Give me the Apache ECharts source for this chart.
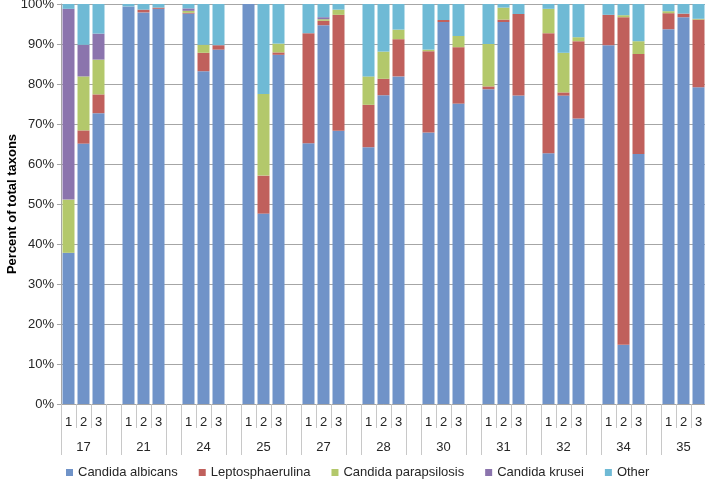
<!DOCTYPE html>
<html>
<head>
<meta charset="utf-8">
<script src="https://cdn.jsdelivr.net/npm/echarts@6/dist/echarts.min.js"></script>
<style>html,body{margin:0;padding:0;background:#fff}#c{width:705px;height:480px}</style>
</head>
<body>
<div id="c"></div>
<script>
// Groups (patients) and replicate labels
const groups = ['17','21','24','25','27','28','30','31','32','34','35'];
const reps = ['1','2','3'];
const seriesNames = ['Candida albicans','Leptosphaerulina','Candida parapsilosis','Candida krusei','Other'];
const yTicks = [0,10,20,30,40,50,60,70,80,90,100];

// Values (percent), 3 per group in group order
const albicans = [37.8,65.1,72.7, 99.4,97.9,98.8, 97.6,83.2,88.6, 100,47.6,87.3, 65.2,94.7,68.3, 64.2,77.2,81.9, 67.9,95.5,75.1, 78.7,95.5,77.1, 62.7,77.1,71.4, 89.7,14.8,62.5, 93.7,96.7,79.2];
const lepto    = [0,3.3,4.7, 0,0.7,0.3, 0.2,4.6,1.1, 0,9.5,0.6, 27.5,1.1,29.0, 10.6,4.1,9.3, 20.3,0.5,14.1, 0.7,0.6,20.4, 30.0,0.8,19.3, 7.6,81.9,25.0, 4.0,0.9,16.9];
const parap    = [13.3,13.5,8.7, 0,0,0, 0.5,2.0,0, 0,20.4,2.2, 0,0.4,1.3, 7.1,6.8,2.4, 0.4,0,2.8, 10.6,3.0,0, 6.1,9.9,1.0, 0,0.5,3.2, 0.5,0,0.2];
const krusei   = [47.7,7.9,6.5, 0,0,0, 0.6,0,0, 0,0,0, 0,0.5,0, 0,0,0, 0,0,0, 0,0,0, 0,0,0, 0,0,0, 0,0,0];
const other    = [1.2,10.2,7.4, 0.6,1.4,0.9, 1.1,10.2,10.3, 0,22.5,9.9, 7.3,3.3,1.4, 18.1,11.9,6.4, 11.4,4.0,8.0, 10.0,0.9,2.5, 1.2,12.2,8.3, 2.7,2.8,9.3, 1.8,2.4,3.7];

const colors = ['#7093c8','#c0605c','#b3c86b','#8b74ad','#6fbad5'];

// Build 43-slot category layout: 3 bars + 1 blank between groups
const cats = [], groupCats = [];
groups.forEach((g, gi) => {
  reps.forEach((r, ri) => { cats.push(r); groupCats.push(ri === 1 ? g : ''); });
  if (gi < groups.length - 1) { cats.push(''); groupCats.push(''); }
});
function expand(arr) {
  const out = [];
  groups.forEach((g, gi) => {
    for (let k = 0; k < 3; k++) out.push(arr[gi * 3 + k]);
    if (gi < groups.length - 1) out.push('-');
  });
  return out;
}
const allData = [albicans, lepto, parap, krusei, other];

const chart = echarts.init(document.getElementById('c'), null, {renderer: 'canvas'});
const font = 'Liberation Sans, Arial, sans-serif';
chart.setOption({
  animation: false,
  color: colors,
  textStyle: {fontFamily: font},
  grid: {left: 61, top: 4, width: 645, height: 400, containLabel: false, outerBoundsMode: 'none'},
  legend: {
    top: 461, left: 61, icon: 'rect', itemWidth: 7, itemHeight: 7, itemGap: 21,
    textStyle: {fontSize: 13, color: '#262626', fontFamily: font},
    data: seriesNames
  },
  xAxis: [{
    type: 'category', data: cats,
    axisLine: {lineStyle: {color: '#a6a6a6'}},
    axisTick: {show: true, interval: 0, length: 24, lineStyle: {color: '#c8c8c8'}},
    axisLabel: {interval: 0, margin: 12, fontSize: 13, color: '#262626', fontFamily: font}
  }, {
    type: 'category', data: groupCats, position: 'bottom',
    axisLine: {show: false},
    axisTick: {show: true, length: 51, lineStyle: {color: '#c8c8c8'},
      interval: function (i) { return i % 4 === 0 || i % 4 === 3; }},
    axisLabel: {interval: 0, margin: 37, fontSize: 13, color: '#262626', fontFamily: font},
    splitLine: {show: false}
  }],
  yAxis: {
    type: 'value', min: yTicks[0], max: yTicks[yTicks.length - 1], interval: 10,
    name: 'Percent of total taxons', nameLocation: 'middle', nameGap: 42, nameRotate: 90,
    nameMoveOverlap: false,
    nameTextStyle: {fontSize: 13, fontWeight: 'bold', color: '#000', fontFamily: font},
    axisLine: {show: true, lineStyle: {color: '#a6a6a6'}},
    axisTick: {show: true, length: 4, lineStyle: {color: '#a6a6a6'}},
    axisLabel: {formatter: '{value}%', fontSize: 13, color: '#262626', margin: 7, fontFamily: font},
    splitLine: {lineStyle: {color: '#a6a6a6'}}
  },
  series: seriesNames.map((n, i) => ({
    name: n, type: 'bar', stack: 'total', xAxisIndex: 0,
    barWidth: 12, data: expand(allData[i]),
    itemStyle: {color: colors[i]}
  }))
});
</script>
</body>
</html>
